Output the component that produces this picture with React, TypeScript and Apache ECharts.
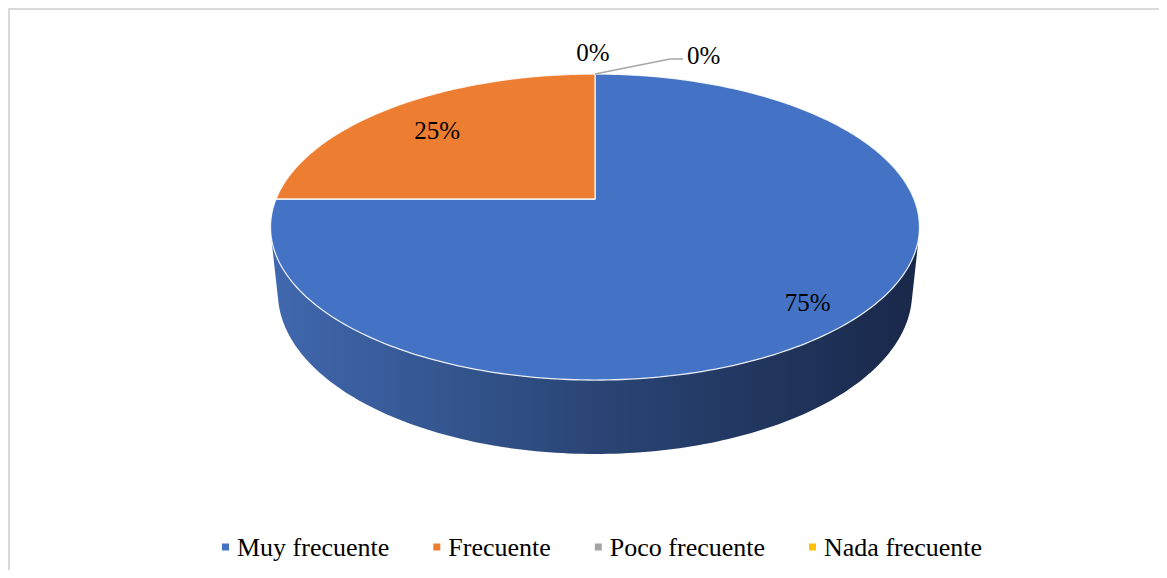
import React, { useEffect, useRef } from "react";
import * as echarts from "echarts";

// ---- data ----
const categories = ["Muy frecuente", "Frecuente", "Poco frecuente", "Nada frecuente"];
const values = [75, 25, 0, 0];
const sliceColors = ["#4472c4", "#ed7d31", "#a5a5a5", "#ffc000"];
// side wall shading (left, middle, right) per slice
const wallColors = [
  ["#4068ae", "#2a4575", "#19284a"],
  ["#c96a2c", "#8f4a1e", "#5a2e12"],
  ["#8c8c8c", "#6a6a6a", "#474747"],
  ["#d9a300", "#a37a00", "#6d5200"],
];
// label placement kind per slice
const labelKinds = ["inside", "inside", "above", "leader"];
const labelRadius = [0.84, 0.77, 1, 1];

// ---- 3D projection geometry ----
const CX = 587;
const CY = 191;
const F = 1544;
const D = 4.84;
const SA = 0.4636;
const CA = 0.886;
const H = 0.234;
const FRONT_MIN = (Math.acos(-1 / (D * CA)) * 180) / Math.PI;
const FRONT_MAX = 360 - FRONT_MIN;

function project(u: number, v: number, h: number): number[] {
  const dist = D - (h * SA + v * CA);
  return [CX + (F * u) / dist, CY + (F * (v * SA - h * CA)) / dist];
}
function rim(phiDeg: number, r: number, h: number): number[] {
  const p = (phiDeg * Math.PI) / 180;
  return project(r * Math.sin(p), -r * Math.cos(p), h);
}

const total = values.reduce((a, b) => a + b, 0);
const starts = values.map((_, i) => (values.slice(0, i).reduce((a, b) => a + b, 0) / total) * 360);

const LABEL_FONT = "'Liberation Serif', 'Times New Roman', serif";

function makeSeries(i: number) {
  return {
    type: "custom",
    name: categories[i],
    coordinateSystem: "none",
    itemStyle: { color: sliceColors[i] },
    data: [values[i]],
    renderItem: (_params: any, api: any) => {
      const val = api.value(0) as number;
      const a1 = starts[i];
      const a2 = a1 + (val / total) * 360;
      const children: any[] = [];
      if (val > 0) {
        const lo = Math.max(a1, FRONT_MIN);
        const hi = Math.min(a2, FRONT_MAX);
        if (hi > lo) {
          const n = Math.max(2, Math.ceil(hi - lo));
          const pts: number[][] = [];
          for (let k = 0; k <= n; k++) pts.push(rim(lo + ((hi - lo) * k) / n, 1, 0));
          for (let k = n; k >= 0; k--) pts.push(rim(lo + ((hi - lo) * k) / n, 1, -H));
          children.push({
            type: "polygon",
            z2: 1,
            shape: { points: pts },
            style: {
              fill: new echarts.graphic.LinearGradient(
                CX - 322,
                0,
                CX + 322,
                0,
                [
                  { offset: 0, color: wallColors[i][0] },
                  { offset: 0.5, color: wallColors[i][1] },
                  { offset: 1, color: wallColors[i][2] },
                ],
                true
              ),
            },
          });
        }
        const m = Math.max(2, Math.ceil(a2 - a1));
        const tpts: number[][] = [project(0, 0, 0)];
        for (let k = 0; k <= m; k++) tpts.push(rim(a1 + ((a2 - a1) * k) / m, 1, 0));
        children.push({
          type: "polygon",
          z2: 10,
          shape: { points: tpts },
          style: {
            fill: sliceColors[i],
            stroke: "rgba(255,255,255,0.85)",
            lineWidth: 1.3,
            lineJoin: "round",
          },
        });
      }
      const pct = Math.round((val / total) * 100) + "%";
      const mid = (a1 + a2) / 2;
      const kind = labelKinds[i];
      const textStyle = {
        text: pct,
        fill: "#000",
        fontSize: 25,
        fontFamily: LABEL_FONT,
        verticalAlign: "middle",
      };
      if (kind === "inside") {
        const p = rim(mid, labelRadius[i], 0);
        children.push({
          type: "text",
          z2: 20,
          x: p[0],
          y: p[1] + 5,
          style: { ...textStyle, align: "center" },
        });
      } else if (kind === "above") {
        const p = rim(mid, 1, 0);
        children.push({
          type: "text",
          z2: 20,
          x: p[0] - 2,
          y: p[1] - 21,
          style: { ...textStyle, align: "center" },
        });
      } else {
        const p = rim(mid, 1, 0);
        const q1 = [p[0] + 75, p[1] - 15];
        const q2 = [p[0] + 88, p[1] - 15];
        children.push({
          type: "polyline",
          z2: 15,
          shape: { points: [p, q1, q2] },
          style: { stroke: "#a6a6a6", lineWidth: 1.3, fill: null },
        });
        children.push({
          type: "text",
          z2: 20,
          x: q2[0] + 4,
          y: p[1] - 18,
          style: { ...textStyle, align: "left" },
        });
      }
      return { type: "group", children };
    },
  };
}

export default function App() {
  const ref = useRef<HTMLDivElement>(null);
  useEffect(() => {
    if (!ref.current) return;
    const chart = echarts.init(ref.current, undefined, { renderer: "svg" });
    chart.setOption({
      animation: false,
      backgroundColor: "#ffffff",
      legend: {
        data: categories,
        left: 214,
        top: 526,
        padding: 0,
        icon: "rect",
        itemWidth: 7,
        itemHeight: 7,
        itemGap: 44,
        textStyle: {
          fontFamily: LABEL_FONT,
          fontSize: 26,
          color: "#000",
          padding: [0, 0, 0, 3],
        },
      },
      graphic: [
        {
          type: "rect",
          silent: true,
          shape: { x: 1, y: 1, width: 1400, height: 800 },
          style: { fill: "none", stroke: "#d9d9d9", lineWidth: 2 },
        },
      ],
      series: categories.map((_, i) => makeSeries(i)),
    });
    return () => chart.dispose();
  }, []);
  return <div ref={ref} style={{ width: 1151, height: 562 }} />;
}
